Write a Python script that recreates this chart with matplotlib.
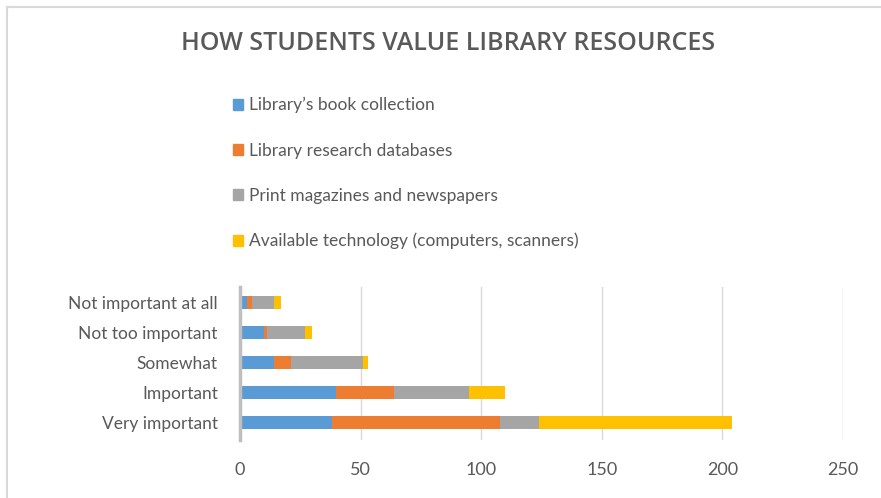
import numpy as np
import matplotlib.pyplot as plt
from matplotlib.patches import Patch
from matplotlib.lines import Line2D

categories = ["Very important", "Important", "Somewhat", "Not too important", "Not important at all"]
series_names = ["Library\u2019s book collection", "Library research databases",
                "Print magazines and newspapers", "Available technology (computers, scanners)"]
book = [38, 40, 14, 10, 3]
databases = [70, 24, 7, 1, 2]
magazines = [16, 31, 30, 16, 9]
technology = [80, 15, 2, 3, 3]
colors = ["#5B9BD5", "#ED7D31", "#A5A5A5", "#FFC000"]
xticks = [0, 50, 100, 150, 200, 250]

txt = "#595959"
plt.rcParams['font.family'] = ['Lato', 'DejaVu Sans']

fig = plt.figure(figsize=(8.81, 4.98), dpi=100)
ax = fig.add_axes([240/881, 58/498, 603/881, 153/498])

y = np.arange(len(categories))
left = np.zeros(len(categories))
for vals, c in zip([book, databases, magazines, technology], colors):
    ax.barh(y, vals, left=left, height=0.43, color=c, zorder=3)
    left += np.array(vals)

ax.set_xlim(0, 250)
ax.set_ylim(-0.57, 4.53)
ax.set_xticks(xticks)
ax.set_yticks(y)
ax.set_yticklabels(categories)
ax.tick_params(axis='x', length=0, pad=16, labelsize=13, labelcolor=txt)
ax.tick_params(axis='y', length=0, pad=16, labelsize=12.5, labelcolor=txt)
ax.grid(axis='x', color='#D9D9D9', lw=1, zorder=0)
for s in ['top', 'right', 'bottom']:
    ax.spines[s].set_visible(False)
ax.spines['left'].set_color('#BFBFBF')
ax.spines['left'].set_linewidth(2.5)
ax.spines['left'].set_zorder(4)

fig.text(448/881, 1 - 44/498, "HOW STUDENTS VALUE LIBRARY RESOURCES", ha='center', va='center',
         fontsize=18, color=txt, family=['Open Sans', 'DejaVu Sans'], fontweight='semibold')

handles = [Patch(color=c) for c in colors]
fig.legend(handles, series_names, loc='upper left', bbox_to_anchor=(233/881, 1 - 97/498),
           frameon=False, fontsize=12.5, labelcolor=txt, handlelength=0.55, handleheight=0.6,
           handletextpad=0.35, labelspacing=1.68, borderpad=0, borderaxespad=0)

# chart frame edge
fig.add_artist(Line2D([7/881, 1], [1 - 7/498, 1 - 7/498], color='#D9D9D9', lw=1.5))
fig.add_artist(Line2D([7/881, 7/881], [0, 1 - 7/498], color='#D9D9D9', lw=1.5))

fig.savefig("out.png", dpi=100)
